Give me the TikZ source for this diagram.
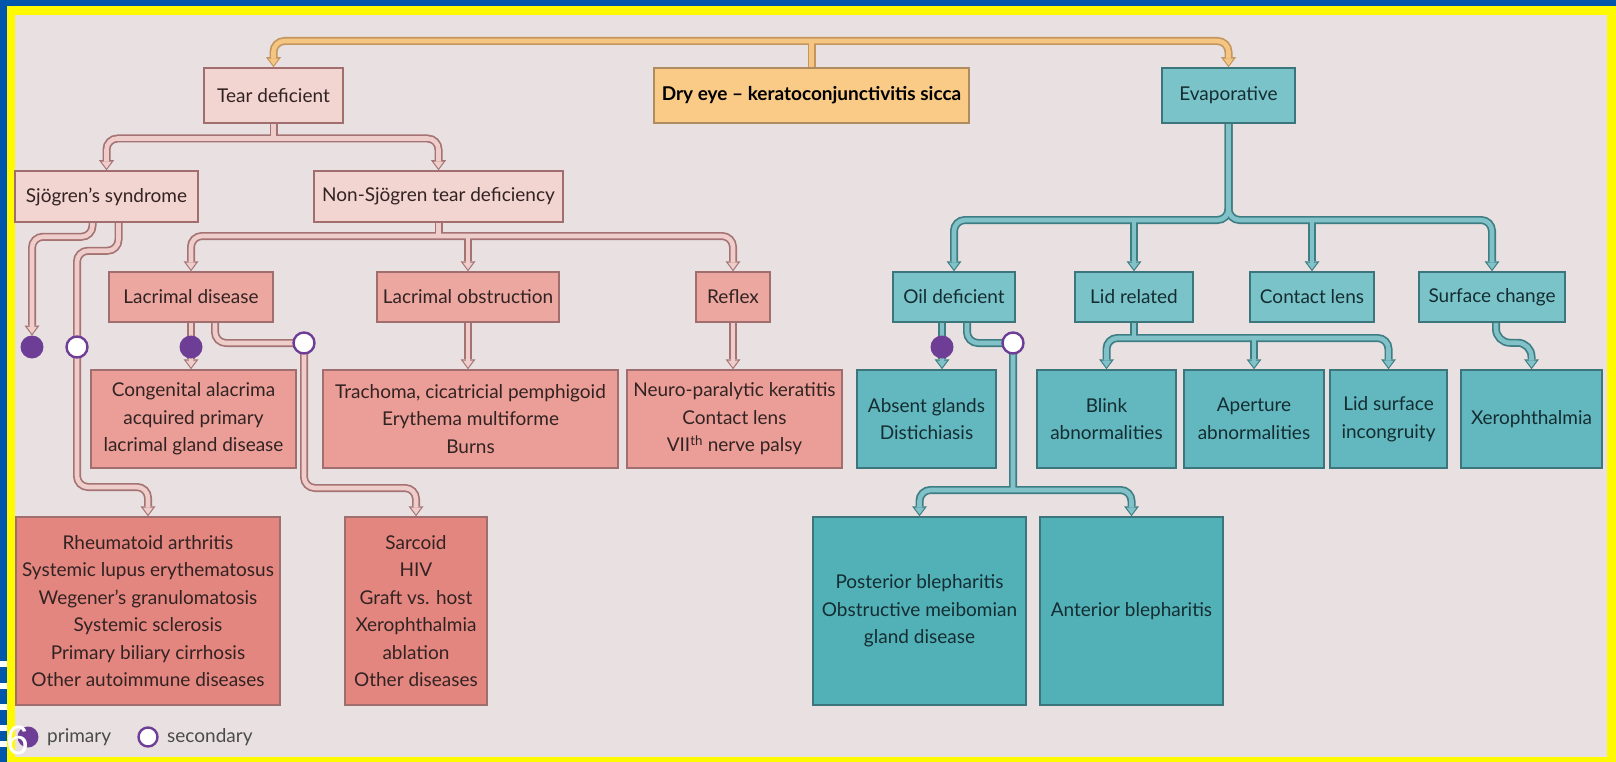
\documentclass[tikz,border=0pt]{standalone}
\usepackage{fontspec}
\setmainfont{Lato}
\newfontfamily\slidefont{Liberation Sans}
\usetikzlibrary{arrows.meta,backgrounds}

\definecolor{slideblue}{RGB}{0,86,170}
\definecolor{slideyellow}{RGB}{255,250,0}
\definecolor{paper}{RGB}{232,224,225}
\definecolor{pkA}{RGB}{242,212,208}
\definecolor{pkB}{RGB}{236,167,160}
\definecolor{pkC}{RGB}{235,158,151}
\definecolor{pkD}{RGB}{228,134,128}
\definecolor{pkedge}{RGB}{160,110,110}
\definecolor{pktext}{RGB}{50,35,35}
\definecolor{orA}{RGB}{250,202,135}
\definecolor{oredge}{RGB}{175,140,95}
\definecolor{tlA}{RGB}{122,196,201}
\definecolor{tlB}{RGB}{98,184,190}
\definecolor{tlC}{RGB}{82,177,183}
\definecolor{tledge}{RGB}{60,118,124}
\definecolor{tltext}{RGB}{20,45,50}
\definecolor{pkline}{RGB}{165,115,115}
\definecolor{pkpipe}{RGB}{238,205,202}
\definecolor{orline}{RGB}{195,150,95}
\definecolor{orpipe}{RGB}{245,198,130}
\definecolor{tlline}{RGB}{62,125,131}
\definecolor{tlpipe}{RGB}{128,194,199}
\definecolor{purp}{RGB}{110,62,150}

\newcommand\boxfont{\fontsize{19}{27.5}\selectfont}

\tikzset{
  box/.style={draw, line width=1.5pt, inner sep=0pt, align=center, font=\boxfont},
  pinkbox/.style={box, fill=pkA, draw=pkedge, text=pktext},
  salmonbox/.style={box, fill=pkB, draw=pkedge, text=pktext},
  rosebox/.style={box, fill=pkC, draw=pkedge, text=pktext},
  redbox/.style={box, fill=pkD, draw=pkedge, text=pktext},
  orangebox/.style={box, fill=orA, draw=oredge, text=black},
  tealbox/.style={box, fill=tlA, draw=tledge, text=tltext},
  tealmid/.style={box, fill=tlB, draw=tledge, text=tltext},
  tealdeep/.style={box, fill=tlC, draw=tledge, text=tltext},
  primary/.style={circle, fill=purp, minimum size=23pt, inner sep=0pt},
  secondary/.style={circle, draw=purp, fill=white, line width=2.4pt, minimum size=21pt, inner sep=0pt},
  legend/.style={font=\boxfont, text={rgb,255:red,75;green,75;blue,75}, inner sep=0pt},
  % pipe passes: outline first, then the filling
  pp/.style={line width=\lw pt, rounded corners=11pt},
  tipe/.style={pp, shorten >=\sh pt, -{Triangle[length=\tlen pt,width=\twid pt,line width=0pt]}},
  tips/.style={pp, shorten >=\sh pt, shorten <=\sh pt,
    {Triangle[length=\tlen pt,width=\twid pt,line width=0pt]}-{Triangle[length=\tlen pt,width=\twid pt,line width=0pt]}},
}

\begin{document}
\begin{tikzpicture}[x=1pt, y=-1pt]
  \useasboundingbox (0,0) rectangle (1616,762);

  % top row
  \node[pinkbox, minimum width=139pt, minimum height=55pt] (td) at (273.5,95.5) {Tear deficient};
  \node[orangebox, minimum width=315pt, minimum height=55pt, font=\boxfont\bfseries] (dry) at (811.5,95.5) {Dry eye -- keratoconjunctivitis sicca};
  \node[tealbox, minimum width=133pt, minimum height=55pt] (evap) at (1228.5,95.5) {Evaporative};
  \node[pinkbox, minimum width=183pt, minimum height=51pt] (sj) at (106.5,196.5) {Sjögren's syndrome};
  \node[pinkbox, minimum width=249pt, minimum height=51pt] (nsj) at (438.5,196.5) {Non-Sjögren tear deficiency};

  % third row
  \node[salmonbox, minimum width=164pt, minimum height=50pt] (lac) at (191,297) {Lacrimal disease};
  \node[salmonbox, minimum width=182pt, minimum height=50pt] (obs) at (468,297) {Lacrimal obstruction};
  \node[salmonbox, minimum width=74pt, minimum height=50pt] (refl) at (733,297) {Reflex};
  \node[tealbox, minimum width=122pt, minimum height=50pt] (oil) at (954,297) {Oil deficient};
  \node[tealbox, minimum width=118pt, minimum height=50pt] (lid) at (1134,297) {Lid related};
  \node[tealbox, minimum width=124pt, minimum height=50pt] (cl) at (1312,297) {Contact lens};
  \node[tealbox, minimum width=146pt, minimum height=50pt] (surf) at (1492,297) {Surface change};

  % fourth row
  \node[rosebox, minimum width=205pt, minimum height=98pt] (cong) at (193.5,419) {Congenital alacrima\\acquired primary\\lacrimal gland disease};
  \node[rosebox, minimum width=295pt, minimum height=98pt] (trach) at (470.5,419) {Trachoma, cicatricial pemphigoid\\Erythema multiforme\\Burns};
  \node[rosebox, minimum width=215pt, minimum height=98pt] (neuro) at (734.5,419) {Neuro-paralytic keratitis\\Contact lens\\VII\textsuperscript{th} nerve palsy};
  \node[tealmid, minimum width=139pt, minimum height=98pt] (absent) at (926.5,419) {Absent glands\\Distichiasis};
  \node[tealmid, minimum width=139pt, minimum height=98pt] (blink) at (1106.5,419) {Blink\\abnormalities};
  \node[tealmid, minimum width=140pt, minimum height=98pt] (aper) at (1254,419) {Aperture\\abnormalities};
  \node[tealmid, minimum width=117pt, minimum height=98pt] (lidsurf) at (1388.5,419) {Lid surface\\incongruity};
  \node[tealmid, minimum width=141pt, minimum height=98pt] (xero) at (1531.5,419) {Xerophthalmia};

  % bottom row
  \node[redbox, minimum width=264pt, minimum height=188pt] (rheum) at (148,611) {Rheumatoid arthritis\\Systemic lupus erythematosus\\Wegener's granulomatosis\\Systemic sclerosis\\Primary biliary cirrhosis\\Other autoimmune diseases};
  \node[redbox, minimum width=142pt, minimum height=188pt] (sarc) at (416,611) {Sarcoid\\HIV\\Graft vs. host\\Xerophthalmia\\ablation\\Other diseases};
  \node[tealdeep, minimum width=213pt, minimum height=188pt] (post) at (919.5,611) {Posterior blepharitis\\Obstructive meibomian\\gland disease};
  \node[tealdeep, minimum width=183pt, minimum height=188pt] (ant) at (1131.5,611) {Anterior blepharitis};

  % primary / secondary marks
  \node[primary] (c1) at (32,347) {};
  \node[secondary] (c2) at (77,347) {};
  \node[primary] (c3) at (191,347) {};
  \node[secondary] (c4) at (304,343) {};
  \node[primary] (c5) at (942,347) {};
  \node[secondary] (c6) at (1013,343) {};

  % legend
  \node[primary, minimum size=21pt] (kp) at (28,737) {};
  \node[legend, anchor=west] (kpt) at (47,737) {primary};
  \node[secondary, minimum size=19pt] (ks) at (148,737) {};
  \node[legend, anchor=west] (kst) at (167,737) {secondary};
  \node[text=white, font=\slidefont\fontsize{41}{41}\selectfont, anchor=base west, inner sep=0pt] (pg) at (6,754) {6};

  \begin{scope}[on background layer]
    \fill[slideblue] (0,0) rectangle (1616,762);
    \fill[slideyellow] (7,6) rectangle (1616,762);
    \fill[paper] (15,15) rectangle (1607,757);
    \foreach \y in {661,683,704,725,741}
      \fill[white] (0,\y) rectangle (7,\y+6);

    \foreach \lw/\sh/\tlen/\twid/\pc in {8/0/10/15/line, 4.6/1.8/6.8/10/pipe} {
      % dry eye
      \draw[tips, draw=or\pc] (td.north) |- (dry.north |- 0,41) -| (evap.north);
      \draw[pp, draw=or\pc] (dry.north) -- (dry.north |- 0,41);
      % tear deficient
      \draw[tips, draw=pk\pc] (sj.north) |- (td.south |- 0,138.5) -| (nsj.north);
      \draw[pp, draw=pk\pc] (td.south) -- (td.south |- 0,138.5);
      \draw[tips, draw=pk\pc] (lac.north) |- (nsj.south |- 0,236) -| (refl.north);
      \draw[pp, draw=pk\pc] (nsj.south) -- (nsj.south |- 0,236);
      \draw[tipe, draw=pk\pc] (obs.north |- 0,236) -- (obs.north);
      \draw[tipe, draw=pk\pc] ([xshift=-14pt]sj.south) -- ++(0,14) -| ([yshift=11.5pt]c1.center);
      \draw[tipe, draw=pk\pc] ([xshift=12pt]sj.south) -- ++(0,28) -| (c2.center) |- (rheum.north |- 0,487) -- (rheum.north);
      \draw[tipe, draw=pk\pc] (lac.south) -- (lac.south |- cong.north);
      \draw[tipe, draw=pk\pc] ([xshift=24pt]lac.south) |- (c4.center) |- (sarc.north |- 0,488) -- (sarc.north);
      \draw[tipe, draw=pk\pc] (obs.south) -- (obs.south |- trach.north);
      \draw[tipe, draw=pk\pc] (refl.south) -- (refl.south |- neuro.north);
      % evaporative
      \draw[tipe, draw=tl\pc] (evap.south) -- (evap.south |- 0,220) -| (oil.north);
      \draw[tipe, draw=tl\pc] (evap.south) -- (evap.south |- 0,220) -| (surf.north);
      \draw[tipe, draw=tl\pc] (lid.north |- 0,220) -- (lid.north);
      \draw[tipe, draw=tl\pc] (cl.north |- 0,220) -- (cl.north);
      \draw[tips, draw=tl\pc] (blink.north) |- (lid.south |- 0,338) -| (lidsurf.north);
      \draw[pp, draw=tl\pc] (lid.south) -- (lid.south |- 0,338);
      \draw[tipe, draw=tl\pc] (aper.north |- 0,338) -- (aper.north);
      \draw[tipe, draw=tl\pc, rounded corners=14pt] ([xshift=4pt]surf.south) -- ++(0,20) -| (xero.north);
      \draw[tipe, draw=tl\pc] (c5.center |- oil.south) -- (c5.center |- absent.north);
      \draw[pp, draw=tl\pc] ([xshift=13pt]oil.south) |- (c6.center) -- (c6.center |- 0,490);
      \draw[tips, draw=tl\pc] (post.north) |- (c6.center |- 0,490) -| (ant.north);
    }
  \end{scope}
\end{tikzpicture}
\end{document}
